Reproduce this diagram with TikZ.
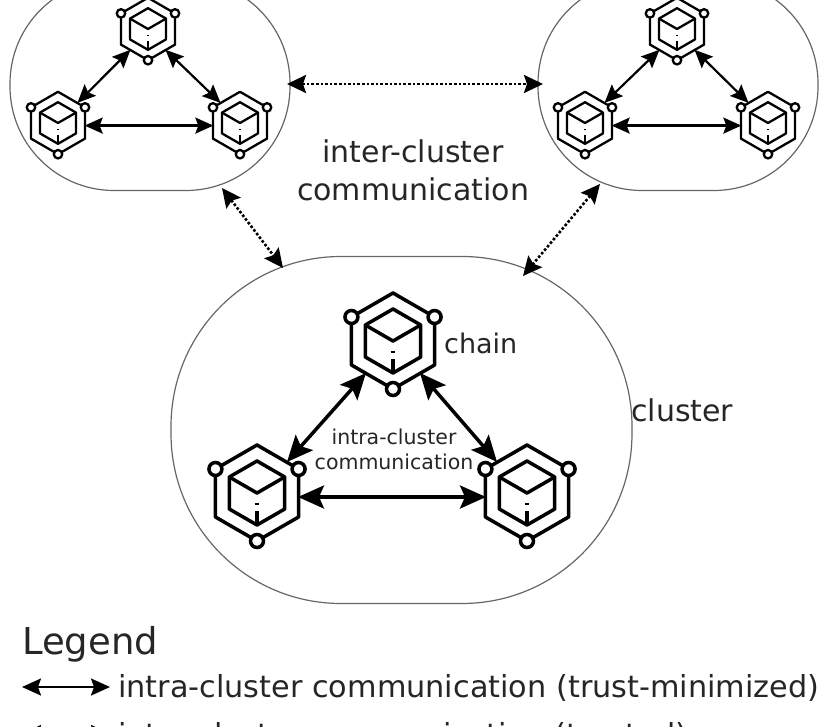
\documentclass[tikz,border=0pt]{standalone}
\usepackage{fontspec}
\setmainfont{DejaVu Sans}
\usetikzlibrary{arrows.meta, graphs}

\tikzset{
    cluster/.style={draw=black!60, line width=1.2pt, rounded corners=#1},
    strongLink/.style={line width=3.5pt, >={Stealth[length=26pt,width=23pt,inset=5pt]}},
    keyLink/.style={line width=2.2pt, >={Stealth[length=19pt,width=17pt,inset=3pt]}},
    smallLink/.style={line width=2.2pt, >={Stealth[length=18pt,width=16pt,inset=3pt]}},
    dottedLink/.style={line width=2.6pt, dotted, >={Stealth[length=19pt,width=18pt,inset=3pt]}},
    label/.style={inner sep=0pt, anchor=base west, text=black!85},
    pics/chain/.style={code={
        \draw[line join=round] (90:48) -- (30:48) -- (-30:48) -- (-90:48) -- (-150:48) -- (150:48) -- cycle;
        \draw[line join=round] (90:32) -- (30:32) -- (-30:32) -- (-90:32) -- (-150:32) -- (150:32) -- cycle;
        \draw[line join=round] (-150:32) -- (0,0) -- (-30:32);
        \draw (0,10) -- (0,11.5);
        \draw (0,18) -- (0,32);
        \foreach \a in {-30, -150, 90}
            \draw[fill=white] (\a:48) circle (6.5);
        \coordinate (-sw) at (-27,32);
        \coordinate (-se) at (27,32);
        \coordinate (-ne) at (30,-31);
        \coordinate (-nw) at (-30,-31);
        \coordinate (-e) at (41,4);
        \coordinate (-w) at (-41,4);
    }}
}

\begin{document}
\begin{tikzpicture}[x=1pt, y=-1pt]
    \useasboundingbox (0,0) rectangle (821,727);
    \clip (0,0) rectangle (821,727);

    % clusters
    \node[cluster=104pt, minimum width=280pt, minimum height=211pt] (leftCluster) at (150,85) {};
    \node[cluster=104pt, minimum width=280pt, minimum height=211pt] (rightCluster) at (678,85) {};
    \node[cluster=170pt, minimum width=461pt, minimum height=347pt] (bigCluster) at (401.5,430) {};

    % chains
    \pic[line width=2.3pt, scale=0.65] (leftTop) at (148,29) {chain};
    \pic[line width=2.3pt, scale=0.65] (leftLeft) at (58,123) {chain};
    \pic[line width=2.3pt, scale=0.65] (leftRight) at (240,123) {chain};

    \pic[line width=2.3pt, scale=0.65] (rightTop) at (677,29) {chain};
    \pic[line width=2.3pt, scale=0.65] (rightLeft) at (585,123) {chain};
    \pic[line width=2.3pt, scale=0.65] (rightRight) at (768,123) {chain};

    \pic[line width=3.5pt] (bigTop) at (393,341) {chain};
    \pic[line width=3.5pt] (bigLeft) at (257,493) {chain};
    \pic[line width=3.5pt] (bigRight) at (527,493) {chain};

    % ends of the links between clusters
    \coordinate (leftEast) at (287,84);
    \coordinate (rightWest) at (543,84);
    \coordinate (leftSouth) at (222,188);
    \coordinate (bigWest) at (283,268);
    \coordinate (rightSouth) at (600,184);
    \coordinate (bigEast) at (523,276);

    % legend ends
    \coordinate (keyA) at (22,687);
    \coordinate (keyB) at (110,687);
    \coordinate (keyC) at (22,734);
    \coordinate (keyD) at (110,734);

    \graph[edges={strongLink}]{
    (bigTop-sw) <-> (bigLeft-ne);
    (bigTop-se) <-> (bigRight-nw);
    (bigLeft-e) <-> (bigRight-w);
    };
    \graph[edges={smallLink}]{
    (leftTop-sw) <-> (leftLeft-ne);
    (leftTop-se) <-> (leftRight-nw);
    (leftLeft-e) <-> (leftRight-w);
    (rightTop-sw) <-> (rightLeft-ne);
    (rightTop-se) <-> (rightRight-nw);
    (rightLeft-e) <-> (rightRight-w);
    };
    \graph[edges={dottedLink}]{
    (leftEast) <-> (rightWest);
    (leftSouth) <-> (bigWest);
    (rightSouth) <-> (bigEast);
    };
    \graph[edges={keyLink}]{
    (keyA) <-> (keyB);
    };
    \graph[edges={dottedLink}]{
    (keyC) <-> (keyD);
    };

    % texts
    \node[text=black!85, align=center, font=\fontsize{30}{38}\selectfont] (interText) at (413,170) {inter-cluster\\communication};
    \node[text=black!85, align=center, font=\fontsize{20.5}{25}\selectfont] (intraText) at (394,449) {intra-cluster\\communication};
    \node[label, font=\fontsize{27}{30}\selectfont] (chainText) at (444,353) {chain};
    \node[label, font=\fontsize{30}{30}\selectfont] (clusterText) at (631,421) {cluster};
    \node[label, font=\fontsize{37}{40}\selectfont] (legendTitle) at (22,654) {Legend};
    \node[label, font=\fontsize{30.3}{30}\selectfont] (legendA) at (118,697) {intra-cluster communication (trust-minimized)};
    \node[label, font=\fontsize{30.3}{30}\selectfont] (legendB) at (118,745) {inter-cluster communication (trusted)};
\end{tikzpicture}
\end{document}
